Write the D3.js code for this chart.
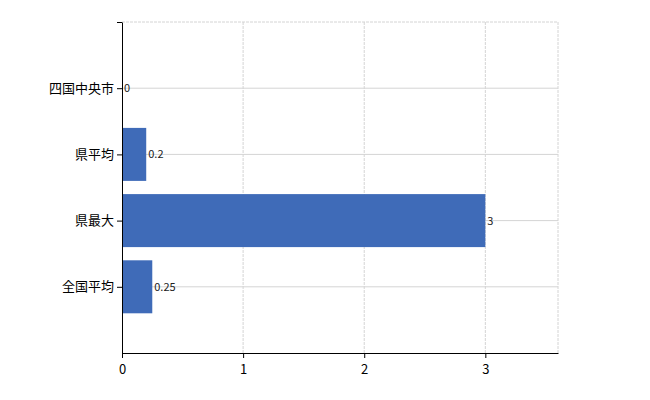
<!DOCTYPE html>
<html><head><meta charset="utf-8">
<script src="https://cdn.jsdelivr.net/npm/d3@7"></script>
<style>body{margin:0;background:#fff}text{font-family:"Noto Sans CJK JP","Noto Sans",sans-serif}</style>
</head><body><div id="chart"></div>
<script>
var categories = ['四国中央市', '県平均', '県最大', '全国平均'];
var values = [0, 0.2, 3, 0.25];
var xTicks = [0, 1, 2, 3];

var mLeft = 122, mRight = 558, mTop = 22, mBottom = 353;
var svg = d3.select('#chart').append('svg').attr('width', 650).attr('height', 400);
var x = d3.scaleLinear().domain([0, 3.6]).range([mLeft, mRight]);
var y = d3.scalePoint().domain(['', ...categories, ' ']).range([mTop, mBottom]);

// grid
svg.selectAll('.vg').data(xTicks.slice(1)).enter().append('line')
	.attr('x1', d => x(d)).attr('x2', d => x(d)).attr('y1', mTop).attr('y2', mBottom)
	.attr('stroke', '#d4d4d4').attr('stroke-dasharray', '3,1');
svg.append('line').attr('x1', mRight).attr('x2', mRight).attr('y1', mTop).attr('y2', mBottom)
	.attr('stroke', '#d4d4d4').attr('stroke-dasharray', '3,1');
svg.selectAll('.hg').data(['', ...categories]).enter().append('line')
	.attr('x1', mLeft).attr('x2', mRight).attr('y1', d => y(d)).attr('y2', d => y(d))
	.attr('stroke', '#d4d4d4').attr('stroke-dasharray', d => d === '' ? '3,1' : null);

// bars
var bh = 53;
svg.selectAll('rect').data(values).enter().append('rect')
	.attr('x', x(0)).attr('y', (d, i) => y(categories[i]) - bh / 2)
	.attr('width', d => x(d) - x(0)).attr('height', bh).attr('fill', '#3f6bb8');
svg.selectAll('.lbl').data(values).enter().append('text')
	.attr('x', d => x(d) + 2).attr('y', (d, i) => y(categories[i]) + 4)
	.attr('font-size', 11).attr('fill', '#222').text(d => d);

// axes
var xa = svg.append('g').attr('transform', 'translate(0,' + mBottom + ')')
	.call(d3.axisBottom(x).tickValues(xTicks).tickFormat(d3.format('d')).tickSize(5).tickSizeOuter(0));
var ya = svg.append('g').attr('transform', 'translate(' + mLeft + ',0)')
	.call(d3.axisLeft(y).tickValues(['', ...categories]).tickSize(5).tickSizeOuter(0));
[xa, ya].forEach(a => {
	a.select('.domain').attr('stroke', '#000');
	a.selectAll('line').attr('stroke', '#000');
	a.selectAll('text').attr('font-size', 13).attr('fill', '#000');
});
xa.selectAll('text').attr('dy', '1em');
</script></body></html>
